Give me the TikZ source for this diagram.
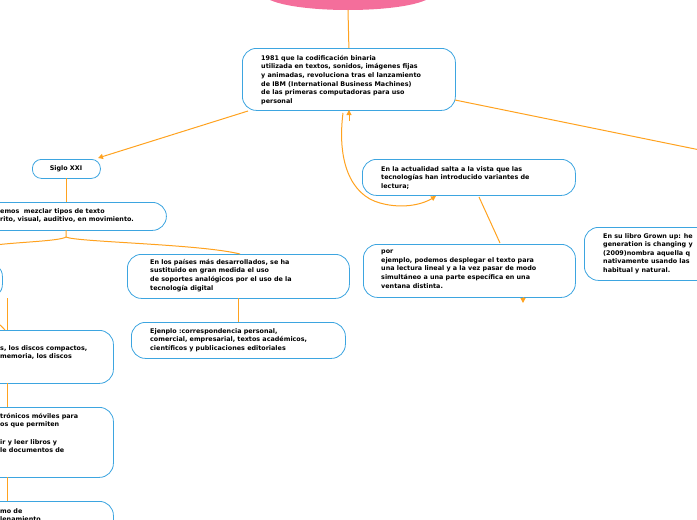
\documentclass[tikz,border=0pt]{standalone}
\usepackage{fontspec}
\setmainfont{DejaVu Sans}
\usetikzlibrary{arrows.meta}
\definecolor{oc}{HTML}{FFA21F}
\definecolor{bc}{HTML}{3DA5E0}
\definecolor{pk}{HTML}{F46E9B}
\begin{document}
\begin{tikzpicture}[x=1pt,y=-1pt,
  box/.style={draw=bc, line width=0.8pt, rounded corners=14pt, fill=white},
  txt/.style={anchor=north west, align=left, font=\fontsize{6.4}{8.6}\selectfont\bfseries, inner sep=0pt},
  con/.style={draw=oc, line width=1pt},
  arr/.style={-{Triangle[length=5pt,width=5pt]}}]
\useasboundingbox (0,0) rectangle (697,520);
\fill[pk] (348,-6) ellipse (84 and 16);
% boxes
\node[box, minimum width=213, minimum height=62, anchor=north west] (n1) at (242,48) {};
\node[txt] (t1) at (261,55) {1981 que la codificación binaria\\utilizada en textos, sonidos, imágenes fijas\\y animadas, revoluciona tras el lanzamiento\\de IBM (International Business Machines)\\de las primeras computadoras para uso\\personal};
\node[box, rounded corners=9pt, minimum width=68, minimum height=19, anchor=north west] (sx) at (32,159) {};
\node[txt, anchor=center] at (66,168.5) {Siglo XXI};
\node[box, minimum width=190, minimum height=28, anchor=north west] (mz) at (-24,202) {};
\node[txt] at (0,208) {emos\ \ mezclar tipos de texto\\rito, visual, auditivo, en movimiento.};
\node[box, minimum width=60, minimum height=36, anchor=north west] (l1) at (-58,262) {};
\node[box, minimum width=220, minimum height=53, anchor=north west] (l2) at (-107,330) {};
\node[txt] at (0,345) {s, los discos compactos,\\memoria, los discos};
\node[box, minimum width=220, minimum height=70, anchor=north west] (l3) at (-107,407) {};
\node[txt] at (0,413) {trónicos móviles para\\os que permiten\\\\ir y leer libros y\\le documentos de};
\node[box, minimum width=220, minimum height=40, anchor=north west] (l4) at (-107,501) {};
\node[txt] at (0,508) {mo de\\lenamiento};
\node[box, minimum width=222, minimum height=44, anchor=north west] (pa) at (127,254) {};
\node[txt] at (150,259) {En los países más desarrollados, se ha\\sustituido en gran medida el uso\\de soportes analógicos por el uso de la\\tecnología digital};
\node[box, minimum width=214, minimum height=36, anchor=north west] (ej) at (131,322) {};
\node[txt] at (150,328) {Ejenplo :correspondencia personal,\\comercial, empresarial, textos académicos,\\científicos y publicaciones editoriales};
\node[box, minimum width=213, minimum height=36, anchor=north west] (ac) at (362,159) {};
\node[txt] at (381,166) {En la actualidad salta a la vista que las\\tecnologías han introducido variantes de\\lectura;};
\node[box, minimum width=212, minimum height=53, anchor=north west] (pe) at (363,244) {};
\node[txt] at (381,250) {por\\ejemplo, podemos desplegar el texto para\\una lectura lineal y a la vez pasar de modo\\simultáneo a una parte específica en una\\ventana distinta.};
\node[box, minimum width=150, minimum height=53, anchor=north west] (gr) at (584,227) {};
\node[txt] at (603,233) {En su libro Grown up: he\\generation is changing y\\(2009)nombra aquella q\\nativamente usando las\\habitual y natural.};
% connectors
\coordinate (e) at (348,10);
\draw[con] (e) -- (n1.north);
\draw[con, arr] (248,111) -- (98,158);
\draw[con] (455,100) -- (700,150);
\draw[con] (66,178) -- (66,202);
\draw[con] (66,230) -- (66,237) .. controls (60,241) and (20,242) .. (-5,245);
\draw[con] (66,237) .. controls (75,242) and (200,244) .. (240,254);
\draw[con] (7,298) -- (7,330);
\draw[con] (-20,318) .. controls (-5,320) and (0,324) .. (5,330);
\draw[con] (7,383) -- (7,407);
\draw[con] (7,477) -- (7,501);
\draw[con] (238,298) -- (238,322);
\draw[con, arr] (343,113) .. controls (337,160) and (350,195) .. (380,203) .. controls (405,210) and (425,203) .. (436,196);
\draw[con, arr] (349,121) -- (349,110);
\draw[con] (479,197) -- (500,243);
\draw[con, arr] (523,297) -- (523,303);
\end{tikzpicture}
\end{document}
